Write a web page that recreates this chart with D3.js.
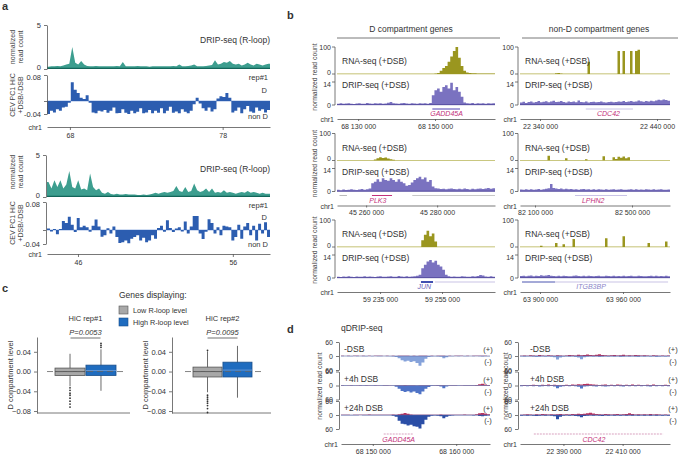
<!DOCTYPE html>
<html><head><meta charset="utf-8">
<script src="https://cdn.jsdelivr.net/npm/d3@7/dist/d3.min.js"></script>
<style>html,body{margin:0;padding:0;background:#fff;}svg{display:block;}</style>
</head><body>
<svg id="fig" width="683" height="457"></svg>
<script>
// ================= DATA =================
// Panel a : genomic windows (Mb), tick labels, tracks
const aTopWindow=[66.5,81.1];
const aBotWindow=[44.0,58.4];
const aTopTicks=[68,78];
const aBotTicks=[46,56];
const aDripRange=[0,5];
const aHicRange=[-0.04,0.08];
const aTopDrip=[0.25,0.3,0.3,0.35,0.3,0.4,0.5,0.6,2.5,0.7, 0.5,0.9,0.5,0.35,0.3,0.3,0.35,0.3,0.3,0.3, 0.3,0.3,0.3,0.35,0.3,0.8,0.3,0.3,0.3,0.3, 0.35,0.3,0.3,0.3,0.25,0.3,0.3,0.3,0.3,0.3, 0.3,0.3,0.35,0.3,0.5,0.3,0.3,0.35,0.4,0.5, 0.3,0.3,0.3,0.35,0.4,0.45,1.0,0.5,0.6,0.8, 0.7,0.9,0.6,0.5,0.6,0.4,0.5,0.7,0.5,0.4, 0.6,0.5,0.4,0.5,0.6];
const aTopHic=[-0.040,-0.030,-0.035,-0.025,-0.030,-0.020,-0.018,-0.005,0.058,0.035, 0.025,0.010,0.006,0.018,-0.005,-0.035,-0.038,-0.030,-0.032,-0.028, -0.036,-0.030,-0.020,-0.038,-0.037,-0.025,-0.036,-0.040,-0.030,-0.038, -0.033,-0.022,-0.038,-0.035,-0.028,-0.038,-0.030,-0.036,-0.022,-0.038, -0.030,-0.018,-0.036,-0.032,-0.038,-0.025,-0.033,-0.038,-0.030,-0.010, 0.010,-0.008,-0.022,-0.030,-0.020,-0.032,-0.025,0.008,0.015,0.012, 0.025,0.010,-0.035,-0.030,-0.020,-0.038,-0.025,-0.015,-0.032,-0.036, -0.020,-0.030,-0.025,-0.035,-0.028];
const aBotDrip=[1.8,1.0,2.0,1.2,2.0,1.0,1.5,3.1,1.2,1.0, 2.0,0.9,1.0,0.8,2.8,1.2,0.8,1.0,0.5,0.4, 0.6,0.35,0.3,0.4,0.3,0.3,0.35,0.3,0.3,0.3, 0.25,0.25,0.3,0.25,0.3,0.4,0.5,0.4,0.5,0.6, 0.5,0.6,0.7,1.3,0.7,0.6,1.2,0.6,0.7,1.6, 0.8,0.6,0.7,1.0,0.6,1.0,0.5,0.6,0.5,0.8, 0.5,0.6,0.5,0.4,0.5,0.6,0.5,0.7,0.5,0.6, 0.5,0.4,0.5,0.4,0.4];
const aBotHic=[0.004,-0.004,0.003,-0.012,0.003,0.026,0.02,0.038,0.015,-0.006, 0.034,0.008,0.012,0.008,-0.005,0.012,0.030,0.010,-0.019,-0.015, 0.005,-0.010,0.010,-0.020,-0.037,-0.035,-0.030,-0.038,-0.025,-0.020, -0.015,-0.030,-0.022,-0.035,-0.030,-0.015,-0.025,0.006,0.012,-0.005, 0.028,0.006,-0.006,0.004,0.008,-0.004,0.024,-0.010,0.010,0.040, 0.040,-0.010,-0.026,-0.005,0.031,0.020,-0.010,0.008,-0.015,0.012, 0.010,0.008,-0.030,-0.020,0.015,-0.025,0.010,0.020,-0.015,0.012, -0.030,0.018,-0.010,0.022,-0.020];

// Panel b : RNA-seq (0-100) and DRIP-seq (0-14)
const bRnaRange=[0,100], bDripRange=[0,14];
const bRnaL1=[1,1,1,1,1,1,1,1,1,1, 1,1,1,1,1,1,1,1,1,1, 1,1,1,1,1,1,1,1,1,1, 1,1,1,1,1,1,1,2,4,12, 22,30,45,65,85,100,60,30,12,6, 4,3,3,2,2,2,2,2,2,2];
const bDripL1=[0.8,1.0,0.7,0.9,1.1,0.8,0.6,0.9,1.0,0.8, 0.7,1.2,0.9,0.8,1.0,0.9,1.1,0.8,0.9,1.3, 1.8,1.0,0.9,0.8,1.0,1.2,0.9,0.8,1.0,0.9, 0.8,1.1,0.9,1.0,0.8,1.2, 6,9,10,8,11,12,10,13.5,9,11,8,5, 1.5,1.0,0.9,1.2,0.8,1.0,0.9,1.1,0.8,1.0,0.9,1.0];
const bRnaR1=[0.5,0.5,0.5,0.5,0.5,0.5,0.5,0.5,0.5,0.5, 0.5,0.5,0.5,0.5,3,4,2,0.5,0.5,0.5, 0.5,0.5,0.5,0.5,0.5,0.5,0.5,45,0.5,0.5, 0.5,0.5,0.5,0.5,0.5,0.5,0.5,0.5,0.5,85, 1,85,1,1,85,2,85,90,0.5,0.5, 0.5,0.5,0.5,0.5,0.5,0.5,0.5,0.5,0.5,0.5];
const bDripR1=[1.5,2,1.2,1.8,2.2,1.5,1.9,2.4,1.6,2.0, 2.3,1.7,2.1,2.6,1.8,2.0,2.4,1.9,1.5,2.2, 1.8,2.1,1.6,2.8,1.9,1.7,2.2,1.5,1.8,2.0, 1.6,1.9,2.1,1.7,1.5,1.8,2.0,1.6,1.9,2.2, 2.0,2.4,1.8,2.1,2.5,2.0,2.2,2.7,2.3,2.0, 2.4,2.1,2.6,2.3,2.8,3.2,2.9,3.4,3.0,2.6];
const bRnaL2=[0.5,0.5,0.5,0.5,0.5,0.5,0.5,0.5,0.5,0.5, 0.5,0.5,0.5,0.5,4,8,12,9,11,7, 5,3,0.5,0.5,0.5,0.5,0.5,0.5,0.5,0.5, 0.5,0.5,0.5,0.5,0.5,0.5,0.5,0.5,0.5,0.5, 0.5,0.5,0.5,0.5,0.5,0.5,0.5,0.5,0.5,0.5, 0.5,0.5,0.5,0.5,0.5,0.5,0.5,0.5,0.5,0.5];
const bDripL2=[1.0,0.8,1.2,0.9,1.1,1.3,1.0,0.9,1.2,1.5,1.1,1.4,1.8, 5,6,7.5,6,8,7,6.5,8,7,6,7.5,6,5, 3.5,4,5.5,7,8,9,7.5,8.5,6,7, 3,2,1.8,1.5,1.7,1.4,1.6,1.8,1.5,1.3, 1.6,1.4,1.8,1.5,1.2,1.6,1.4,1.7,1.9,1.5, 1.8,2.2,1.6,2.0];
const bRnaR2=[0.5,0.5,0.5,0.5,0.5,0.5,0.5,0.5,0.5,0.5, 0.5,18,0.5,0.5,0.5,0.5,0.5,0.5,8,0.5, 0.5,0.5,0.5,0.5,0.5,0.5,5,0.5,0.5,0.5, 0.5,0.5,0.5,16,0.5,0.5,0.5,12,6,14, 10,15,8,12,0.5,0.5,0.5,0.5,0.5,0.5, 0.5,0.5,0.5,0.5,0.5,0.5,0.5,0.5,0.5,0.5];
const bDripR2=[1.2,1.0,1.4,1.1,1.3,1.0,1.2,1.5,1.1,1.3, 1.6,2.0,4.5,2.2,1.8,1.5,1.9,1.4,1.6,1.3, 1.5,1.2,1.4,1.1,1.3,1.5,1.2,1.4,1.0,1.3, 1.1,1.4,1.2,1.0,1.3,1.1,1.2,1.4,1.0,1.2, 1.3,1.1,1.0,1.2,1.4,1.1,1.3,1.0,1.2,1.1, 1.4,1.2,1.0,1.3,1.1,1.2,1.4,1.1,1.0,1.2];
const bRnaL3=[0.5,0.5,0.5,0.5,0.5,0.5,0.5,0.5,0.5,0.5, 0.5,0.5,0.5,0.5,0.5,0.5,0.5,0.5,0.5,0.5, 0.5,0.5,0.5,0.5,0.5,0.5,0.5,0.5,0.5,0.5, 0.5,0.5,25,45,60,40,50,20,0.5,0.5, 0.5,0.5,0.5,0.5,0.5,0.5,0.5,0.5,0.5,0.5, 0.5,0.5,0.5,0.5,0.5,0.5,0.5,0.5,0.5,0.5];
const bDripL3=[0.8,0.6,0.9,0.7,1.0,0.8,0.6,0.9,0.7,0.8, 1.0,0.7,0.9,0.8,0.6,0.9,1.1,0.8,0.7,0.9, 1.0,0.8,0.7,1.2,0.9,0.8,1.0,0.7,0.9,1.1, 1.3,2.0, 6,8,10,11,9.5,10.5,8,7,5, 2.0,1.0,0.8,0.9,0.7,0.8,1.0,0.9,0.8, 0.7,1.0,0.9,1.2,1.8,1.5,0.9,0.8,1.0,0.7];
const bRnaR3=[0.5,0.5,0.5,0.5,0.5,0.5,0.5,0.5,5,0.5, 0.5,0.5,0.5,0.5,15,0.5,0.5,10,0.5,0.5, 0.5,30,0.5,0.5,0.5,0.5,0.5,0.5,0.5,0.5, 0.5,0.5,0.5,0.5,32,0.5,0.5,0.5,0.5,0.5, 0.5,40,0.5,0.5,0.5,0.5,0.5,0.5,0.5,0.5, 0.5,15,0.5,0.5,0.5,0.5,0.5,0.5,20,0.5];
const bDripR3=[1.2,1.4,1.0,1.3,1.5,1.1,1.4,1.2,1.6,1.3, 1.5,1.8,1.4,1.2,1.0,1.3,1.1,1.4,1.2,1.0, 1.1,1.3,1.5,1.2,1.0,1.4,1.1,1.3,1.2,1.0, 1.2,1.4,1.1,1.0,1.3,1.2,1.1,1.4,1.0,1.2, 1.1,1.3,1.0,1.2,1.4,1.1,1.0,1.3,1.2,1.1, 1.0,1.2,1.4,1.1,1.3,1.0,1.2,1.1,1.3,1.0];

// Panel c : box plot summaries
const cGroups=["Low R-loop level","High R-loop level"];
const cReps=["HiC rep#1","HiC rep#2"];
const cPvals=["P=0.0053","P=0.0095"];
const cTicks=[0.04,0.00,-0.04,-0.08];
const cRep1=[{q1:-0.008,med:0.0,q3:0.007,lo:-0.030,hi:0.036,out:[-0.033,-0.038,-0.044,-0.048,-0.054,-0.060,-0.066,-0.072]},
             {q1:-0.008,med:0.002,q3:0.013,lo:-0.039,hi:0.045,out:[0.049,0.053,0.057]}];
const cRep2=[{q1:-0.011,med:0.0,q3:0.009,lo:-0.042,hi:0.041,out:[0.043,-0.048,-0.052,-0.056,-0.060,-0.064,-0.069,-0.075,-0.083]},
             {q1:-0.011,med:0.003,q3:0.019,lo:-0.053,hi:0.052,out:[]}];

// Panel d : qDRIP-seq, (+) strand and (-) strand, 3 conditions
const dConds=["-DSB","+4h DSB","+24h DSB"];
const dRange=[-60,60];
const dLPos=[[1,0.5,1,0.5,1,1.5,0.5,1,0.5,1, 0.5,1,1.5,1,0.5,1,0.5,1,0.5,1.5, 1,1.5,1,0.5,1,0.5,1,1.5,1,0.5, 1,0.5,1,1.5,1,0.5,1,0.5,1,1.5, 1,0.5,1,0.5,1.5,1,1,1.5,1,0.5],
             [1,0.5,1.5,1,0.5,1,1.5,0.5,1,1, 0.5,1.5,1,0.5,1,1,1.5,0.5,1,1, 1.5,2,1,1.5,1,0.5,1,1,1.5,1, 0.5,1,1.5,1,1,0.5,1,1.5,1,0.5, 1,1.5,1,1.5,1,2,5,7,4,2],
             [1,1.5,1,0.5,1.5,1,1,1.5,1,2, 1,1.5,1,1,1.5,1,1.5,2,1.5,3, 5,9,5,2,1.5,1,1.5,1,1.5,1, 1.5,1,1.5,2,1.5,1,1.5,1,1.5,1, 1.5,2,1.5,1,1.5,3,7,9,6,3]];
const dLNeg=[[1,0.5,1,1,0.5,1,0.5,1,1,0.5, 1,0.5,1,1,0.5,1,1,2,4,10, 18,24,20,26,22,30,42,28,12,4, 2,1,2,3,10,5,1,1,0.5,1, 0.5,1,1,0.5,1,0.5,1,2,1,1],
             [1,1,0.5,1.5,1,0.5,1,1,1.5,0.5, 1,1,0.5,1.5,1,1,0.5,1,5,14, 24,28,25,30,26,32,38,26,14,6, 2,1,2,4,12,4,1,1.5,1,1, 0.5,1,1.5,1,1,1.5,1,1,1.5,1],
             [1,1.5,1,1,1.5,1,0.5,1.5,1,1, 1.5,1,1,1.5,1,1.5,1,3,8,25, 38,40,45,42,48,50,58,40,20,8, 3,2,3,5,14,7,3,2,1,1.5, 1,1.5,1,1.5,2,1.5,4,5,3,2]];
const dRPos=[[1,2,1,3,2,1,4,2,1,3, 2,1,3,2,1,2,4,3,2,5, 3,4,6,4,3,5,7,4,3,2, 3,4,2,3,5,2,3,2,4,3, 2,3,2,1,3,2,1,2,1,2],
             [1,2,1,2,3,2,1,3,2,4, 2,3,2,1,2,3,2,4,3,5, 4,6,8,5,4,3,2,3,4,2, 3,2,4,3,2,3,2,4,2,3, 2,1,3,2,4,2,1,2,3,2],
             [1,2,3,2,1,3,2,4,3,2, 3,2,3,4,2,3,2,4,3,5, 4,5,8,10,6,4,3,2,4,3, 2,3,4,2,3,4,7,4,2,3, 2,3,2,4,2,3,2,1,2,1]];
const dRNeg=[[2,3,2,2,3,4,3,2,3,2, 3,5,15,6,3,2,3,2,4,6, 14,5,3,2,3,2,4,3,2,3, 2,3,2,4,3,2,3,2,3,4, 2,3,2,3,2,4,3,2,3,2],
             [3,2,3,2,3,2,4,3,2,3, 2,4,12,5,3,2,3,2,3,5, 13,4,3,2,3,4,2,3,4,3, 2,3,2,3,4,2,3,2,3,2, 3,2,3,4,2,3,2,3,2,3],
             [3,2,3,2,3,4,3,2,3,2, 3,5,18,8,3,2,3,2,4,5, 10,4,3,2,3,2,3,4,2,3, 2,3,2,3,2,3,2,3,2,3, 2,3,2,3,2,3,2,3,2,3]];

// ================= DRAWING =================
const FONT="'Liberation Sans', Arial, Helvetica, sans-serif";
const TXT="#333";
const svg=d3.select("#fig").attr("font-family",FONT);

function text(x,y,s,o={}){
  const t=svg.append("text").attr("x",x).attr("y",y).text(s)
    .attr("font-size",o.size||8).attr("fill",o.fill||TXT)
    .attr("text-anchor",o.anchor||"start");
  if(o.weight) t.attr("font-weight",o.weight);
  if(o.italic) t.attr("font-style","italic");
  if(o.rotate) t.attr("transform",`rotate(-90,${x},${y})`);
  return t;
}
function line(x1,y1,x2,y2,stroke,w,dash){
  const l=svg.append("line").attr("x1",x1).attr("y1",y1).attr("x2",x2).attr("y2",y2)
    .attr("stroke",stroke).attr("stroke-width",w||0.8);
  if(dash) l.attr("stroke-dasharray",dash);
  return l;
}
function stepArea(values,win,x,y,fill,sign=1){
  const step=(win[1]-win[0])/values.length;
  const pts=values.map((v,i)=>[win[0]+i*step,sign*v]);
  pts.push([win[1],sign*values[values.length-1]]);
  svg.append("path").datum(pts)
    .attr("d",d3.area().x(d=>x(d[0])).y0(y(0)).y1(d=>y(d[1])).curve(d3.curveStepAfter))
    .attr("fill",fill);
}
function spikeArea(values,win,x,y,fill){
  const step=(win[1]-win[0])/values.length;
  const pts=values.map((v,i)=>[win[0]+(i+0.5)*step,v]);
  pts.unshift([win[0],values[0]]); pts.push([win[1],values[values.length-1]]);
  svg.append("path").datum(pts)
    .attr("d",d3.area().x(d=>x(d[0])).y0(y(0)).y1(d=>y(d[1])).curve(d3.curveLinear))
    .attr("fill",fill);
}
function styleAxis(g,fs){
  g.attr("font-family",FONT);
  g.select(".domain").attr("stroke","#555").attr("stroke-width",0.8);
  g.selectAll(".tick line").attr("stroke","#555").attr("stroke-width",0.8);
  g.selectAll(".tick text").attr("font-size",fs||7).attr("fill",TXT);
  return g;
}
const spaced=d=>d3.format(",")(d).replace(/,/g," ");

// ---------- panel letters ----------
text(2,10,"a",{size:11,weight:"bold"});
text(287,19,"b",{size:11,weight:"bold"});
text(2,292,"c",{size:11,weight:"bold"});
text(287,333,"d",{size:11,weight:"bold"});

// ---------- panel a ----------
const aBlocks=[
 {win:aTopWindow,drip:aTopDrip,hic:aTopHic,ticks:aTopTicks,
  L:{axisX:47,dTop:25,dBase:69,hTop:75,hBot:114,chrY:127,lab:43,rep:80,D:93,nonD:119,yl1:47,yl2:95}},
 {win:aBotWindow,drip:aBotDrip,hic:aBotHic,ticks:aBotTicks,
  L:{axisX:46,dTop:155,dBase:197,hTop:202,hBot:244,chrY:254,lab:172,rep:208,D:220,nonD:247,yl1:172,yl2:223}}
];
aBlocks.forEach(b=>{
  const L=b.L;
  const x=d3.scaleLinear().domain(b.win).range([47,270]);
  const yD=d3.scaleLinear().domain(aDripRange).range([L.dBase,L.dTop]);
  const yH=d3.scaleLinear().domain(aHicRange).range([L.hBot,L.hTop]);
  spikeArea(b.drip,b.win,x,yD,"#3d9e8f");
  line(47,yD(0)-0.6,270,yD(0)-0.6,"#13665a",1.4);
  line(47,yH(0),270,yH(0),"#9fb8e4",1);
  stepArea(b.hic,b.win,x,yH,"#2c5db0");
  const gd=styleAxis(svg.append("g").attr("transform",`translate(${L.axisX},0)`)
    .call(d3.axisLeft(yD).tickValues(aDripRange).tickSize(3).tickSizeOuter(0).tickFormat(d3.format("d"))),7.5);
  gd.selectAll(".tick text").filter(d=>d===0).attr("dy","0.1em");
  const gh=styleAxis(svg.append("g").attr("transform",`translate(${L.axisX},0)`)
    .call(d3.axisLeft(yH).tickValues([aHicRange[0],0,aHicRange[1]]).tickSize(3).tickSizeOuter(0)
      .tickFormat(d=>d===0?"":d.toFixed(2))),7.5);
  gh.selectAll(".tick text").filter(d=>d===aHicRange[1]).attr("dy","0.62em");
  styleAxis(svg.append("g").attr("transform",`translate(0,${L.chrY})`)
    .call(d3.axisBottom(x).tickValues(b.ticks).tickSize(3).tickSizeOuter(0).tickFormat(d3.format("d"))),7);
  text(42,L.chrY+3,"chr1",{size:7,anchor:"end"});
  text(270,L.lab,"DRIP-seq (R-loop)",{size:8.5,anchor:"end"});
  text(268,L.rep,"rep#1",{size:7.5,anchor:"end"});
  text(267,L.D,"D",{size:7.5,anchor:"end"});
  text(268,L.nonD,"non D",{size:7.5,anchor:"end"});
  text(15,L.yl1,"normalized",{size:7,anchor:"middle",rotate:true,fill:"#444"});
  text(23,L.yl1,"read count",{size:7,anchor:"middle",rotate:true,fill:"#444"});
  text(15,L.yl2,"CEV PC1 HiC",{size:7,anchor:"middle",rotate:true,fill:"#444"});
  text(23,L.yl2,"+DSB/-DSB",{size:7,anchor:"middle",rotate:true,fill:"#444"});
});

// ---------- panel b ----------
text(411,32,"D compartment genes",{size:8.5,anchor:"middle"});
line(337,38,500,38,"#555",0.8);
text(599,32,"non-D compartment genes",{size:8.5,anchor:"middle"});
line(522,38,678,38,"#555",0.8);

const bCols=[{axisX:335,x0:337,x1:495},{axisX:518,x0:520,x1:670}];
const bRowTops=[47,133.5,220];
const bRows=[
 {c:0,r:0,win:[68124500,68165600],ticks:[68130000,68150000],rna:bRnaL1,drip:bDripL1,
  genes:[{s:68149300,e:68156500,col:"#8a80cc",w:1.5}],label:{t:"GADD45A",at:68153000,col:"#c2307a"}},
 {c:1,r:0,win:[22322900,22451100],ticks:[22340000,22440000],rna:bRnaR1,drip:bDripR1,
  genes:[{s:22379120,e:22419437,col:"#c9c3e6",w:1}],label:{t:"CDC42",at:22398500,col:"#c2307a"}},
 {c:0,r:1,win:[45251800,45296300],ticks:[45260000,45280000],rna:bRnaL2,drip:bDripL2,
  genes:[{s:45252500,e:45254600,col:"#bbb",w:1},{s:45261650,e:45267300,col:"#c2307a",w:1},{s:45273000,e:45296300,col:"#c8c8c8",w:1.2}],
  label:{t:"PLK3",at:45263300,col:"#c2307a"}},
 {c:1,r:1,win:[82038100,82656700],ticks:[82100000,82500000],rna:bRnaR2,drip:bDripR2,
  genes:[{s:82264900,e:82479300,col:"#c9c3e6",w:1.2}],label:{t:"LPHN2",at:82340000,col:"#c2307a"}},
 {c:0,r:2,win:[59221100,59272100],ticks:[59235000,59255000],rna:bRnaL3,drip:bDripL3,
  genes:[{s:59248200,e:59252100,col:"#3f4fb0",w:2},{s:59252700,e:59272100,col:"#c9c3e6",w:1.2}],label:{t:"JUN",at:59249300,col:"#6a62b8"}},
 {c:1,r:2,win:[63885540,63993980],ticks:[63900000,63960000],rna:bRnaR3,drip:bDripR3,
  genes:[{s:63887000,e:63910900,col:"#4a55b0",w:1},{s:63910900,e:63992600,col:"#c9c3e6",w:1.2}],label:{t:"ITGB3BP",at:63936900,col:"#8a84c8"}}
];
bRows.forEach(R=>{
  const C=bCols[R.c], top=bRowTops[R.r];
  const x=d3.scaleLinear().domain(R.win).range([C.x0,C.x1]);
  const yR=d3.scaleLinear().domain(bRnaRange).range([top+27,top]);
  const yD=d3.scaleLinear().domain(bDripRange).range([top+58,top+35]);
  line(C.x0,yR(0),C.x1,yR(0),"#cfcd8a",0.8);
  stepArea(R.rna,R.win,x,yR,"#9a961f");
  stepArea(R.drip,R.win,x,yD,"#7a72c0");
  line(C.x0,yD(0)-0.3,C.x1,yD(0)-0.3,"#4c4495",0.8);
  // y axis
  line(C.axisX,top,C.axisX,top+58,"#555",0.8);
  [[yR(100),"100"],[yR(0),"0"],[yD(14),"14"],[yD(0),"0"]].forEach(([yy,s],i)=>{
    line(C.axisX-3,yy,C.axisX,yy,"#555",0.8);
    text(C.axisX-4,yy+(i===1?0.5:i===2?4.5:2.5),s,{size:7,anchor:"end"});
  });
  text(C.x0+5,top+17,"RNA-seq (+DSB)",{size:8.5});
  text(C.x0+5,top+41,"DRIP-seq (+DSB)",{size:8.5});
  // gene models
  R.genes.forEach(g=>line(x(g.s),top+62,x(g.e),top+62,g.col,g.w));
  text(x(R.label.at),top+69,R.label.t,{size:7,anchor:"middle",italic:true,fill:R.label.col});
  // chr axis
  styleAxis(svg.append("g").attr("transform",`translate(0,${top+72})`)
    .call(d3.axisBottom(x).tickValues(R.ticks).tickSize(2).tickSizeOuter(0).tickFormat(spaced)),7);
  text(C.x0-3,top+75,"chr1",{size:7,anchor:"end"});
  if(R.c===0) text(317,top+30,"normalized read count",{size:6.8,anchor:"middle",rotate:true,fill:"#444"});
});

// ---------- panel c ----------
text(119,298,"Genes displaying:",{size:8.5});
svg.append("rect").attr("x",119).attr("y",306).attr("width",9).attr("height",8).attr("fill","#a8a8a8").attr("stroke","#555").attr("stroke-width",0.6);
text(133,313,cGroups[0],{size:7.3});
svg.append("rect").attr("x",119).attr("y",318).attr("width",9).attr("height",8).attr("fill","#1f6cbf").attr("stroke","#1a4f8a").attr("stroke-width",0.6);
text(133,325,cGroups[1],{size:7.3});

const cPlots=[{stats:cRep1,axisX:37,xEnd:130,band:[55,116],rep:cReps[0],p:cPvals[0],ylab:13},
              {stats:cRep2,axisX:172,xEnd:271,band:[193,252],rep:cReps[1],p:cPvals[1],ylab:148}];
const cFill=["#a8a8a8","#1f6cbf"], cStroke=["#555","#1a4f8a"];
cPlots.forEach(P=>{
  const y=d3.scaleLinear().domain([-0.084,0.07]).range([413,337]);
  const xb=d3.scaleBand().domain(cGroups).range(P.band).paddingInner(0.03);
  const cx=(P.band[0]+P.band[1])/2;
  text(cx,321,P.rep,{size:7.5,anchor:"middle"});
  text(cx,335,P.p,{size:7.5,anchor:"middle",italic:true});
  line(cx-15,338,cx+15,338,"#333",0.7);
  styleAxis(svg.append("g").attr("transform",`translate(${P.axisX},0)`)
    .call(d3.axisLeft(y).tickValues(cTicks).tickSize(3).tickSizeOuter(0)
      .tickFormat(d=>d===0?"0.00":(d<0?"\u2212":"")+Math.abs(d).toFixed(2))),7.5);
  line(P.axisX,413,P.xEnd,413,"#555",0.8);
  text(P.ylab,375,"D compartment level",{size:7.5,anchor:"middle",rotate:true});
  P.stats.forEach((s,i)=>{
    const g=cGroups[i], x0=xb(g), w=xb.bandwidth(), mx=x0+w/2;
    line(mx,y(s.hi),mx,y(s.lo),"#444",0.8);
    svg.append("rect").attr("x",x0).attr("y",y(s.q3)).attr("width",w).attr("height",y(s.q1)-y(s.q3))
      .attr("fill",cFill[i]).attr("stroke",cStroke[i]).attr("stroke-width",0.8);
    line(x0,y(s.med),x0+w,y(s.med),i===0?"#555":"#6b9bd6",0.9);
    s.out.forEach(o=>svg.append("circle").attr("cx",mx).attr("cy",y(o)).attr("r",0.9).attr("fill","#333"));
  });
  line(P.band[0]-8,y(0),P.band[1]+9,y(0),"#666",0.8,"6,4");
});

// ---------- panel d ----------
text(341,331,"qDRIP-seq",{size:8.5});
const dCols=[{axisX:339,x0:341,x1:490,win:[68146190,68164050],ticks:[68150000,68160000],pos:dLPos,neg:dLNeg,
              gene:{s:68151310,e:68154880,t:"GADD45A",at:68153100,col:"#c2307a"},ylab:322,lab:344,pm:488},
             {axisX:518,x0:520,x1:670,win:[22375330,22426000],ticks:[22390000,22410000],pos:dRPos,neg:dRNeg,
              gene:{s:22380000,e:22423660,t:"CDC42",at:22400300,col:"#c2307a"},ylab:508,lab:530,pm:673}];
const dTops=[342,371.5,401];
const dNegCol=["#85a2da","#4f73c6","#2b4ea6"], dPosCol="#b9335f";
dCols.forEach(C=>{
  const x=d3.scaleLinear().domain(C.win).range([C.x0,C.x1]);
  dConds.forEach((cond,k)=>{
    const top=dTops[k];
    const y=d3.scaleLinear().domain(dRange).range([top+28,top]);
    stepArea(C.neg[k],C.win,x,y,dNegCol[k],-1);
    stepArea(C.pos[k],C.win,x,y,dPosCol,1);
    line(C.x0,y(0),C.x1,y(0),"#5a5f9a",0.6);
    styleAxis(svg.append("g").attr("transform",`translate(${C.axisX},0)`)
      .call(d3.axisLeft(y).tickValues([dRange[0],0,dRange[1]]).tickSize(3).tickSizeOuter(0).tickFormat(d=>Math.abs(d))),7);
    text(C.lab,top+10,cond,{size:8.5});
    text(C.pm,top+10,"(+)",{size:7.5,anchor:"middle"});
    text(C.pm,top+22,"(-)",{size:7.5,anchor:"middle"});
  });
  line(x(C.gene.s),434,x(C.gene.e),434,"#d9a2c0",1.2,"2,1");
  text(x(C.gene.at),441.5,C.gene.t,{size:7,anchor:"middle",italic:true,fill:C.gene.col});
  styleAxis(svg.append("g").attr("transform",`translate(0,444)`)
    .call(d3.axisBottom(x).tickValues(C.ticks).tickSize(2).tickSizeOuter(0).tickFormat(spaced)),7);
  text(C.x0-3,447,"chr1",{size:7,anchor:"end"});
  text(C.ylab,386,"normalized read count",{size:6.8,anchor:"middle",rotate:true,fill:"#444"});
});
</script>
</body></html>
